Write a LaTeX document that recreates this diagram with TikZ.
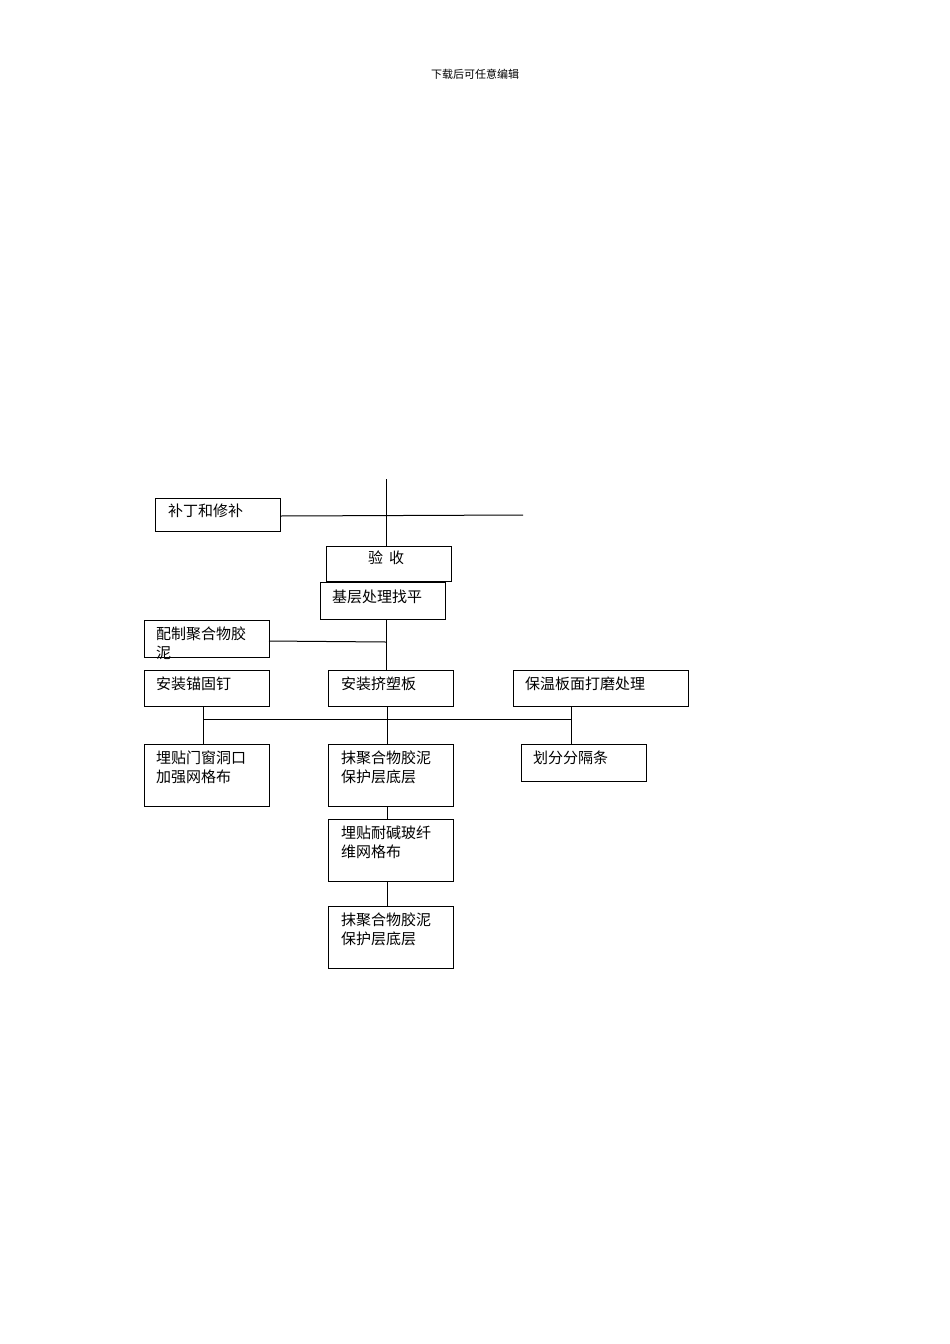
\documentclass[tikz,border=0pt]{standalone}
\usepackage{fontspec}
\newfontfamily\cjk{Noto Sans CJK SC}
\begin{document}
\begin{tikzpicture}[x=1pt,y=-1pt,
  bx/.style={draw,line width=1pt},
  tx/.style={anchor=north west,inner sep=0pt,font=\cjk\fontsize{15}{19}\selectfont,align=left},
  ln/.style={line width=1pt}]
\useasboundingbox (0,0) rectangle (950,1344);
\node[font=\cjk\fontsize{11}{13}\selectfont] (hdr) at (475,74) {下载后可任意编辑};
\draw[bx] (155,498) rectangle (280,531); \node[tx] (a) at (168,504) {补丁和修补};
\draw[bx] (326,546) rectangle (451,581); \node[tx] (b) at (368,551) {验\hspace{6pt}收};
\draw[bx] (320,582) rectangle (445,619); \node[tx] (c) at (332,590) {基层处理找平};
\draw[bx] (144,620) rectangle (269,657); \node[tx] (d) at (156,627) {配制聚合物胶\\泥};
\draw[bx] (144,670) rectangle (269,706); \node[tx] (e) at (156,677) {安装锚固钉};
\draw[bx] (328,670) rectangle (453,706); \node[tx] (f) at (341,677) {安装挤塑板};
\draw[bx] (513,670) rectangle (688,706); \node[tx] (g) at (525,677) {保温板面打磨处理};
\draw[bx] (144,744) rectangle (269,806); \node[tx] (h) at (156,751) {埋贴门窗洞口\\加强网格布};
\draw[bx] (328,744) rectangle (453,806); \node[tx] (i) at (341,751) {抹聚合物胶泥\\保护层底层};
\draw[bx] (521,744) rectangle (646,781); \node[tx] (j) at (533,751) {划分分隔条};
\draw[bx] (328,819) rectangle (453,881); \node[tx] (k) at (341,826) {埋贴耐碱玻纤\\维网格布};
\draw[bx] (328,906) rectangle (453,968); \node[tx] (l) at (341,913) {抹聚合物胶泥\\保护层底层};
\draw[ln] (386,479) -- (386,546);
\draw[ln] (280,516) -- (523,515);
\draw[ln] (386,619) -- (386,670);
\draw[ln] (269,641) -- (386,642);
\draw[ln] (203,719) -- (571,719);
\draw[ln] (203,706) -- (203,744);
\draw[ln] (571,706) -- (571,744);
\draw[ln] (387,706) -- (387,744);
\draw[ln] (387,806) -- (387,819);
\draw[ln] (387,881) -- (387,906);
\end{tikzpicture}
\end{document}
